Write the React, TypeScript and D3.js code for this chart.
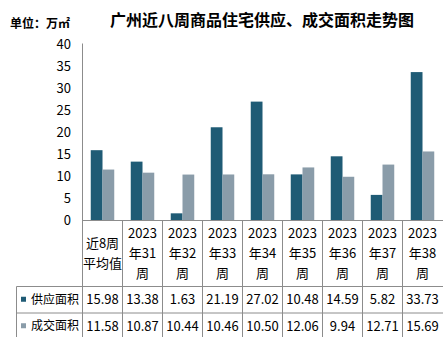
import React from "react";
import * as d3 from "d3";

const categories = ["近8周\n平均值", "2023\n年31\n周", "2023\n年32\n周", "2023\n年33\n周", "2023\n年34\n周", "2023\n年35\n周", "2023\n年36\n周", "2023\n年37\n周", "2023\n年38\n周"];
const seriesNames = ["供应面积", "成交面积"];
const supply = [15.98, 13.38, 1.63, 21.19, 27.02, 10.48, 14.59, 5.82, 33.73];
const deal = [11.58, 10.87, 10.44, 10.46, 10.5, 12.06, 9.94, 12.71, 15.69];
const colors = ["#1F5B75", "#8A9CA9"];
const yTicks = [0, 5, 10, 15, 20, 25, 30, 35, 40];

const W = 443, H = 337;
const FONT = "'Microsoft YaHei', 'Noto Sans CJK SC', sans-serif";

export default function App() {
  const x = d3.scaleBand<number>().domain(d3.range(categories.length)).range([82.5, 442.5]).padding(0);
  const y = d3.scaleLinear().domain([0, 40]).range([220.5, 44.5]);
  const inner = d3.scaleBand<number>().domain([0, 1]).range([-11.75, 11.75]).padding(0);
  const series = [supply, deal];
  const rowTop = 220.5, headerBottom = 286.5, row1 = 313, row2 = 339.5;
  const lineColor = "#8c8c8c";

  return (
    <svg width={W} height={H} style={{ position: "absolute", left: 0, top: 0, background: "#fff" }} fontFamily={FONT}>
      <text x={110} y={26} fontSize={16} fontWeight="bold" fill="#000">广州近八周商品住宅供应、成交面积走势图</text>
      <text x={10} y={28} fontSize={12} fontWeight="bold" fill="#000">单位：万㎡</text>
      {yTicks.map(t => (
        <text key={t} x={71} y={y(t)} dy="0.35em" fontSize={13} textAnchor="end" fill="#000">{t}</text>
      ))}
      {series.map((s, si) => s.map((v, i) => {
        const cx = (x(i) as number) + x.bandwidth() / 2;
        return <rect key={si + "-" + i} x={cx + (inner(si) as number)} y={y(v)} width={inner.bandwidth()} height={y(0) - y(v)} fill={colors[si]} />;
      }))}
      {/* axis & table lines */}
      <line x1={82.5} x2={82.5} y1={43.5} y2={H} stroke={lineColor} />
      <line x1={82.5} x2={W} y1={rowTop} y2={rowTop} stroke={lineColor} />
      <line x1={16.5} x2={W} y1={headerBottom} y2={headerBottom} stroke={lineColor} />
      <line x1={16.5} x2={W} y1={row1} y2={row1} stroke={lineColor} />
      <line x1={16.5} x2={16.5} y1={headerBottom} y2={H} stroke={lineColor} />
      {categories.map((_, i) => i > 0 ? (
        <line key={"v" + i} x1={x(i)} x2={x(i)} y1={rowTop} y2={H} stroke={lineColor} />
      ) : null)}
      {categories.map((c, i) => {
        const lines = c.split("\n");
        const cx = (x(i) as number) + x.bandwidth() / 2;
        const mid = (rowTop + headerBottom) / 2;
        const lh = 20;
        return (
          <g key={"h" + i}>
            {lines.map((l, li) => (
              <text key={li} x={cx} y={mid + (li - (lines.length - 1) / 2) * lh} dy="0.35em" fontSize={13} textAnchor="middle" fill="#000">{l}</text>
            ))}
          </g>
        );
      })}
      {series.map((s, si) => {
        const ry = si === 0 ? (headerBottom + row1) / 2 : (row1 + row2) / 2;
        return (
          <g key={"r" + si}>
            <rect x={21} y={ry - 3} width={5} height={5} fill={colors[si]} />
            <text x={31} y={ry} dy="0.35em" fontSize={12} fill="#000">{seriesNames[si]}</text>
            {s.map((v, i) => (
              <text key={i} x={(x(i) as number) + x.bandwidth() / 2} y={ry} dy="0.35em" fontSize={13} textAnchor="middle" fill="#000">{v.toFixed(2)}</text>
            ))}
          </g>
        );
      })}
    </svg>
  );
}
